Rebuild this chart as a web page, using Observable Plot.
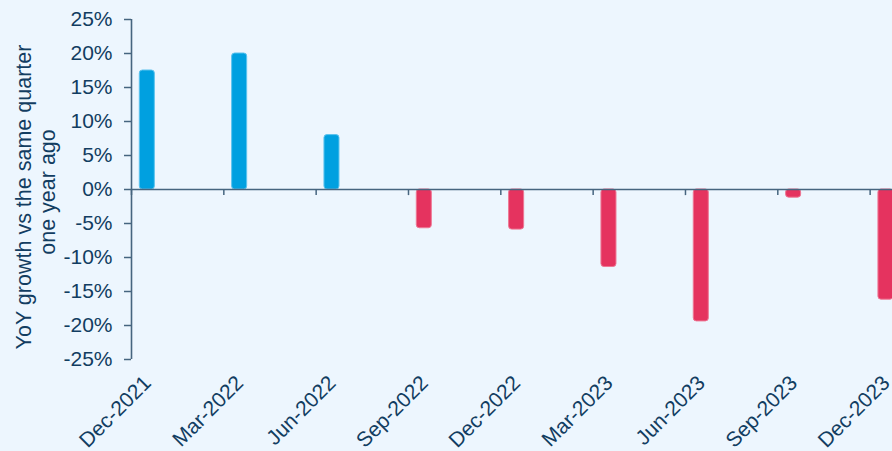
<!DOCTYPE html>
<html>
<head>
<meta charset="utf-8">
<script src="https://cdn.jsdelivr.net/npm/d3@7"></script>
<script src="https://cdn.jsdelivr.net/npm/@observablehq/plot@0.6"></script>
<style>
  html, body { margin: 0; padding: 0; background: #edf6fe; overflow: hidden; }
  #chart svg { display: block; background: #edf6fe; }
</style>
</head>
<body>
<div id="chart"></div>
<script>
const quarters = ["Dec-2021","Mar-2022","Jun-2022","Sep-2022","Dec-2022","Mar-2023","Jun-2023","Sep-2023","Dec-2023"];
const growth = [17.5, 20.0, 8.0, -5.7, -5.9, -11.4, -19.4, -1.2, -16.2];
const yTicks = [-25, -20, -15, -10, -5, 0, 5, 10, 15, 20, 25];
const yTitleLine1 = "YoY growth vs the same quarter";
const yTitleLine2 = "one year ago";

const data = quarters.map((q, i) => ({q, i, v: growth[i]}));
const boundaries = d3.range(quarters.length + 1);

const textColor = "#123d61";
const axisColor = "#46657f";
const font = "Liberation Sans, Arial, sans-serif";

const plot = Plot.plot({
  width: 892,
  height: 451,
  marginLeft: 131,
  marginRight: 0,
  marginTop: 19,
  marginBottom: 92,
  style: {background: "#edf6fe", fontFamily: font, color: textColor, overflow: "hidden"},
  x: {type: "linear", domain: [0, quarters.length], range: [131, 131 + 92.33 * quarters.length], axis: null},
  y: {domain: [-25, 25], axis: null},
  marks: [
    Plot.rectY(data, {
      x1: d => d.i, x2: d => d.i + 1, y1: 0, y2: "v",
      insetLeft: 8.3, insetRight: 69,
      fill: d => d.v >= 0 ? "#00a0e0" : "#e5335f",
      stroke: d => d.v >= 0 ? "#5cc3ee" : "#ee7794",
      strokeWidth: 1,
      rx: 3
    }),
    Plot.ruleY([0], {stroke: axisColor, strokeWidth: 1.6}),
    Plot.ruleX(boundaries, {x: d => d, y1: 0, y2: -0.9, stroke: axisColor, strokeWidth: 1.5}),
    Plot.ruleX([0], {y1: -25, y2: 25, stroke: axisColor, strokeWidth: 1.6}),
    Plot.axisY({
      ticks: yTicks, tickFormat: d => d + "%", anchor: "left",
      tickSize: 7, tickPadding: 12, stroke: axisColor, strokeWidth: 1.5,
      fontSize: 21, fill: textColor, label: null
    }),
    Plot.axisX({
      ticks: d3.range(quarters.length), tickFormat: i => quarters[i],
      tickSize: 0, tickPadding: 2, tickRotate: -45, dx: 16, dy: 18,
      fontSize: 21, fill: textColor, label: null
    }),
    Plot.text([yTitleLine1], {
      frameAnchor: "left", rotate: -90, dx: -107.5, dy: 7.5,
      fontSize: 21.5, fill: textColor, textAnchor: "middle", lineAnchor: "middle"
    }),
    Plot.text([yTitleLine2], {
      frameAnchor: "left", rotate: -90, dx: -83, dy: 2.5,
      fontSize: 21.5, fill: textColor, textAnchor: "middle", lineAnchor: "middle"
    })
  ]
});
document.getElementById("chart").appendChild(plot);
</script>
</body>
</html>
